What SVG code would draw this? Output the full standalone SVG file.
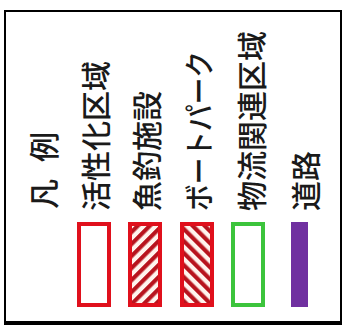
<svg xmlns="http://www.w3.org/2000/svg" width="342" height="327" viewBox="0 0 342 327">
  <style>
    .lbl { font-family: "Noto Sans CJK JP", "Noto Sans", sans-serif; font-size: 30px; font-weight: 500; fill: #1a1a1a; dominant-baseline: central; }
    .red { fill: none; stroke: #e0101c; stroke-width: 4; }
    .grn { fill: none; stroke: #3cc43c; stroke-width: 4; }
    .frame { stroke: #000; fill: none; }
  </style>
  <defs>
    <pattern id="hatchA" patternUnits="userSpaceOnUse" width="8.5" height="8.5" patternTransform="rotate(45)">
      <rect width="8.5" height="8.5" fill="#fff4ee"/>
      <rect width="4.2" height="8.5" fill="#b8141e"/>
    </pattern>
    <pattern id="hatchB" patternUnits="userSpaceOnUse" width="8.5" height="8.5" patternTransform="rotate(-45)">
      <rect width="8.5" height="8.5" fill="#fff4ee"/>
      <rect width="4.2" height="8.5" fill="#b8141e"/>
    </pattern>
  </defs>
  <rect width="342" height="327" fill="#fff"/>
  <g id="frame">
    <line class="frame" x1="4" y1="11" x2="342" y2="11" stroke-width="2"/>
    <line class="frame" x1="5" y1="10" x2="5" y2="325" stroke-width="2"/>
    <line class="frame" x1="341" y1="10" x2="341" y2="325" stroke-width="2"/>
    <line class="frame" x1="4" y1="323" x2="342" y2="323" stroke-width="4"/>
  </g>
  <g id="title">
    <text class="lbl" transform="translate(42,209) rotate(-90)" textLength="77" lengthAdjust="spacing">凡 例</text>
  </g>
  <g id="item-kasseika">
    <text class="lbl" transform="translate(94,211) rotate(-90)">活性化区域</text>
    <rect class="red" x="79" y="224" width="30" height="81"/>
  </g>
  <g id="item-gyochou">
    <text class="lbl" transform="translate(145,211) rotate(-90)">魚釣施設</text>
    <rect x="128" y="222" width="34" height="85" fill="url(#hatchA)"/>
    <rect class="red" x="130" y="224" width="30" height="81"/>
  </g>
  <g id="item-boatpark">
    <text class="lbl" transform="translate(197,211) rotate(-90)" textLength="160" lengthAdjust="spacingAndGlyphs">ボートパーク</text>
    <rect x="180" y="222" width="34" height="85" fill="url(#hatchB)"/>
    <rect class="red" x="182" y="224" width="30" height="81"/>
  </g>
  <g id="item-butsuryu">
    <text class="lbl" transform="translate(250,211) rotate(-90)">物流関連区域</text>
    <rect class="grn" x="233" y="224" width="30" height="81"/>
  </g>
  <g id="item-douro">
    <text class="lbl" transform="translate(304,211) rotate(-90)">道路</text>
    <rect x="291" y="222" width="17" height="85" fill="#7030a0"/>
  </g>
</svg>
